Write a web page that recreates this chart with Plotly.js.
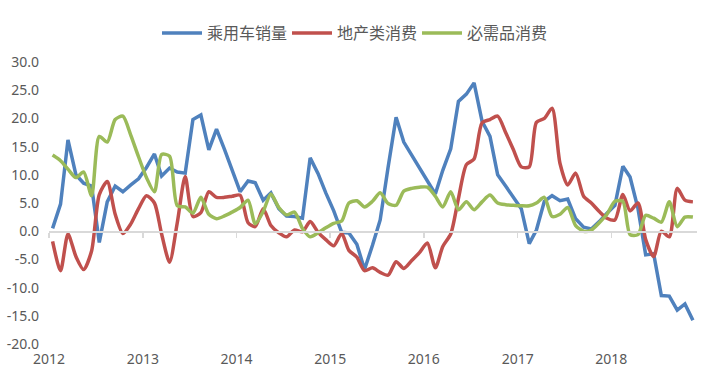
<!DOCTYPE html>
<html>
<head>
<meta charset="utf-8">
<script src="https://cdn.plot.ly/plotly-3.0.1.min.js"></script>
<style>
html,body{margin:0;padding:0;background:#fff;}
#chart{width:707px;height:390px;}
</style>
</head>
<body>
<div id="chart"></div>
<script>
// Monthly data, Jan 2012 - Nov 2018
const startYear = 2012;
const monthCount = 83;
const seriesNames = ['乘用车销量', '地产类消费', '必需品消费'];
const carSales = [
  0.5, 4.8, 16.2, 10.0, 8.5, 8.0, -2.0, 5.2, 8.0, 7.0, 8.2, 9.3,
  11.3, 13.7, 9.8, 11.2, 10.5, 10.3, 19.8, 20.6, 14.4, 18.1, 14.5, 11.0,
  7.0, 8.9, 8.6, 5.5, 6.8, 4.0, 2.7, 2.6, 2.3, 13.0, 10.2, 6.8,
  3.6, -0.2, -0.3, -2.3, -6.8, -2.5, 2.0, 11.4, 20.2, 15.8, 13.5, 11.2,
  8.8, 6.6, 10.8, 14.6, 23.0, 24.3, 26.3, 19.5, 16.8, 10.0, 8.0, 6.0,
  4.0, -2.2, 0.2, 5.3, 6.3, 5.4, 5.7, 2.2, 0.7, 0.4, 1.7, 3.2,
  4.6, 11.5, 9.6, 4.0, -4.2, -4.0, -11.4, -11.5, -14.0, -12.9, -15.8
];
const propertyConsumption = [
  -1.8, -7.0, -0.5, -4.5, -6.8, -3.5, 6.5, 8.8, 3.0, -0.4, 1.3, 4.0,
  6.3, 5.0, -0.5, -5.5, 1.5, 9.7, 2.6, 3.3, 7.0, 6.0, 6.0, 6.2,
  6.4, 1.5, 0.8, 4.0, 1.0, -0.3, -1.0, 0.2, -0.1, 1.7, -0.2, -1.5,
  -2.6, -0.4, -3.4, -4.6, -7.0, -6.5, -7.3, -7.8, -5.4, -6.6, -5.2, -3.8,
  -2.1, -6.5, -2.7, -0.5, 5.8, 11.8, 12.8, 19.2, 19.8, 20.4, 17.5, 14.5,
  11.4, 11.4, 19.3, 20.0, 21.8, 12.0, 8.2, 10.3, 6.2, 5.0, 3.5, 2.3,
  2.0, 6.5, 3.6, 5.0, -1.5, -4.5, 0.0, -1.0, 7.6, 5.5, 5.2
];
const necessityConsumption = [
  13.5, 12.5, 11.0, 9.5, 10.5, 6.3, 16.8, 15.8, 19.8, 20.4, 17.0, 13.2,
  9.5, 7.0, 13.6, 13.3, 4.5, 4.3, 3.2, 6.0, 3.0, 2.2, 2.7, 3.4,
  4.2, 5.5, 1.3, 3.5, 6.6, 4.2, 2.9, 3.4, 0.5, -1.0, -0.3, 0.6,
  1.4, 1.8, 5.0, 5.4, 4.3, 5.3, 6.8, 4.9, 4.6, 7.1, 7.6, 7.8,
  7.8, 6.2, 4.3, 7.0, 3.8, 5.2, 3.8, 5.2, 6.4, 5.0, 4.7, 4.6,
  4.5, 4.5, 5.0, 6.0, 2.6, 3.0, 4.2, 1.0, 0.0, 0.2, 1.5, 3.0,
  5.3, 5.3, -0.6, -0.6, 2.8, 2.3, 1.6, 5.2, 0.8, 2.5, 2.5
];
const yTickValues = [-20, -15, -10, -5, 0, 5, 10, 15, 20, 25, 30];
const yTickLabels = yTickValues.map(v => v.toFixed(1));
const colors = ['#4F81BD', '#C0504D', '#9BBB59'];

const dates = [];
for (let i = 0; i < monthCount; i++) {
  const y = startYear + Math.floor(i / 12);
  const m = (i % 12) + 1;
  dates.push(y + '-' + String(m).padStart(2, '0') + '-15');
}

const seriesValues = [carSales, propertyConsumption, necessityConsumption];
const shapes = ['linear', 'spline', 'spline'];
const traces = seriesValues.map((vals, k) => ({
  x: dates, y: vals, name: seriesNames[k], type: 'scatter', mode: 'lines',
  line: {color: colors[k], width: 3.5, shape: shapes[k], smoothing: 0.7},
  hoverinfo: 'skip'
}));
// helper trace that makes the zero-crossing axis exist
traces.unshift({x: dates, y: carSales, xaxis: 'x2', yaxis: 'y', mode: 'lines',
  line: {width: 0, color: 'rgba(0,0,0,0)'}, showlegend: false, hoverinfo: 'skip'});

const layout = {
  width: 707, height: 390,
  margin: {l: 49, r: 10, t: 62, b: 46},
  paper_bgcolor: '#ffffff', plot_bgcolor: '#ffffff',
  font: {family: 'Noto Sans, Liberation Sans, sans-serif', color: '#595959', size: 14},
  showlegend: true,
  legend: {orientation: 'h', x: 352 / 707, xref: 'container', xanchor: 'center', y: 1 - 33 / 390, yanchor: 'middle',
    yref: 'container', font: {family: 'Noto Sans CJK SC, sans-serif', size: 16, color: '#595959'},
    traceorder: 'normal', itemwidth: 40, entrywidth: 75, entrywidthmode: 'pixels'},
  xaxis: {type: 'date', range: ['2012-01-01', '2018-12-01'], dtick: 'M12', tick0: '2012-01-01',
    tickformat: '%Y', showgrid: false, zeroline: false, showline: false, ticks: '',
    ticklabelstandoff: 5, tickfont: {size: 14, color: '#595959'}, fixedrange: true},
  xaxis2: {type: 'date', matches: 'x', overlaying: 'x', anchor: 'free', position: 0.4,
    dtick: 'M12', tick0: '2012-01-01', showticklabels: false, showgrid: false, zeroline: false,
    showline: true, linecolor: '#d9d9d9', linewidth: 1.5, ticks: 'outside', ticklen: 5,
    tickcolor: '#d9d9d9', tickwidth: 1.5},
  yaxis: {range: [-20, 30], tickvals: yTickValues, ticktext: yTickLabels, showgrid: false,
    zeroline: false, showline: false, ticks: '', ticklabelstandoff: 9,
    tickfont: {size: 14, color: '#595959'}, fixedrange: true}
};

Plotly.newPlot('chart', traces, layout, {displayModeBar: false, staticPlot: true});
</script>
</body>
</html>
